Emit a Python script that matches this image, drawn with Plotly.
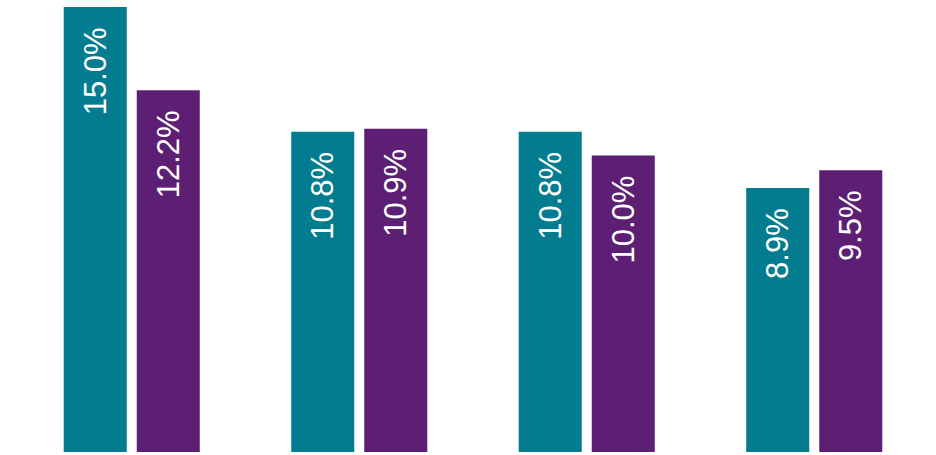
import plotly.graph_objects as go

categories = ["Group 1", "Group 2", "Group 3", "Group 4"]
series_a = [15.0, 10.8, 10.8, 8.9]
series_b = [12.2, 10.9, 10.0, 9.5]
series_names = ["Series A", "Series B"]
colors = ["#037C8F", "#5D1F74"]

PAD = "\u00a0\u00a0"

def labels(vals):
    return [f"{v:.1f}%" + PAD for v in vals]

fig = go.Figure()
for name, vals, col in zip(series_names, [series_a, series_b], colors):
    fig.add_trace(go.Bar(
        x=categories, y=vals, name=name,
        marker=dict(color=col, line=dict(width=0)),
        text=labels(vals), textposition="inside", insidetextanchor="end",
        textangle=-90,
        textfont=dict(family="Liberation Sans, Arial, sans-serif", size=31, color="white"),
        cliponaxis=False,
    ))

fig.update_layout(
    width=936, height=455,
    margin=dict(l=18, r=8, t=0, b=3),
    barmode="group", bargap=0.358, bargroupgap=0.137,
    showlegend=False,
    paper_bgcolor="white", plot_bgcolor="white",
    uniformtext=dict(mode=False),
    xaxis=dict(visible=False),
    yaxis=dict(visible=False, range=[0, 15.24]),
)
fig.write_html("out.html")
